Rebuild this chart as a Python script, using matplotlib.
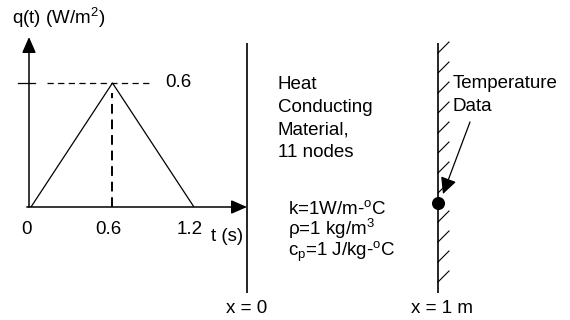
import matplotlib
matplotlib.use('Agg')
import matplotlib.pyplot as plt
import numpy as np

plt.rcParams['font.family'] = ['Liberation Sans', 'DejaVu Sans']
plt.rcParams['mathtext.fontset'] = 'custom'
plt.rcParams['mathtext.rm'] = 'Liberation Sans'
plt.rcParams['mathtext.it'] = 'Liberation Sans:italic'

# heat flux pulse q(t)
t_pts = [0.0, 0.6, 1.2]
q_pts = [0.0, 0.6, 0.0]
t_ticks = [0, 0.6, 1.2]
t_tick_labels = ['0', '0.6', '1.2']
q_peak = 0.6
q_peak_label = '0.6'

# slab
wall_x = [0.0, 1.0]        # m
wall_labels = ['x = 0', 'x = 1 m']
sensor_x = 1.0
material_lines = ['Heat', 'Conducting', 'Material,', '11 nodes']
prop_lines = [r'k=1W/m-$^\mathregular{o}$C',
              r'ρ=1 kg/m$^\mathregular{3}$',
              r'c$_\mathregular{p}$=1 J/kg-$^\mathregular{o}$C']

W, H = 570, 320
fs = 13.5
fig = plt.figure(figsize=(5.7, 3.2), dpi=100)

# ---- left: q(t) sketch ----
ax = fig.add_axes([29 / W, (H - 207) / H, 218 / W, 170 / H])
ax.set_xlim(-0.0147, 1.5906)
ax.set_ylim(0, 0.8225)
ax.axis('off')

arrow = dict(arrowstyle='-|>,head_length=0.8,head_width=0.35', mutation_scale=12,
             lw=1.1, color='k', shrinkA=0, shrinkB=0)
ax.annotate('', xy=(1, 0), xytext=(-0.01, 0), xycoords='axes fraction', arrowprops=arrow)
ax.annotate('', xy=(0, 1), xytext=(0, 0), xycoords='axes fraction', arrowprops=arrow)

ax.plot(t_pts, q_pts, color='k', lw=0.9)
t_peak = t_pts[int(np.argmax(q_pts))]
ax.plot([0.12, t_peak + 0.3], [q_peak, q_peak], color='k', lw=0.9, ls=(0, (5, 3.5)))
ax.plot([t_peak, t_peak], [0, q_peak - 0.05], color='k', lw=1.4, ls=(0, (5, 3)))
ax.plot([-0.096, 0.03], [q_peak, q_peak], color='k', lw=0.9, clip_on=False)
ax.text(t_peak + 0.39, q_peak, q_peak_label, fontsize=fs, va='center', ha='left')

for tv, lab in zip(t_ticks, t_tick_labels):
    ax.text(tv - 0.03, -0.1306, lab, fontsize=fs, ha='center', va='baseline', clip_on=False)
ax.text(1.447, -0.1645, 't (s)', fontsize=fs, ha='center', va='baseline', clip_on=False)
fig.text(12 / W, 1 - 24 / H, r'q(t) (W/m$^\mathregular{2}$)', fontsize=fs,
         ha='left', va='baseline')

# ---- right: slab schematic (x in metres, y in pixels) ----
ax2 = fig.add_axes([0, 0, 1, 1], facecolor='none')
ax2.set_xlim(-247 / 191, (W - 247) / 191)
ax2.set_ylim(H, 0)
ax2.axis('off')

ax2.vlines(wall_x, 43, 293, color='k', lw=1.2)
hatch_y = np.concatenate([np.arange(53, 196, 20), np.arange(222, 290, 20)])
for yy in hatch_y:
    ax2.plot([wall_x[1], wall_x[1] + 11 / 191], [yy, yy - 11], color='k', lw=0.8)

ax2.plot(sensor_x, 203, 'o', color='k', ms=8.4)
ax2.annotate('', xy=(sensor_x + 0.026, 194), xytext=(sensor_x + 0.1675, 122),
             arrowprops=dict(arrowstyle='-|>,head_length=0.9,head_width=0.45',
                             mutation_scale=11, lw=0.9, color='k',
                             shrinkA=0, shrinkB=0))
ax2.text(sensor_x + 0.0785, 88, 'Temperature', fontsize=fs, va='baseline')
ax2.text(sensor_x + 0.0785, 111, 'Data', fontsize=fs, va='baseline')

for i, line in enumerate(material_lines):
    ax2.text(0.162, 89 + 22.7 * i, line, fontsize=fs, va='baseline')
for i, line in enumerate(prop_lines):
    ax2.text(0.215, 214 + 21 * i, line, fontsize=fs, va='baseline')

ax2.text(wall_x[0], 313, wall_labels[0], fontsize=fs, ha='center', va='baseline')
ax2.text(wall_x[1] + 0.02, 313, wall_labels[1], fontsize=fs, ha='center', va='baseline')

fig.savefig('out.png', dpi=100, facecolor='white')
